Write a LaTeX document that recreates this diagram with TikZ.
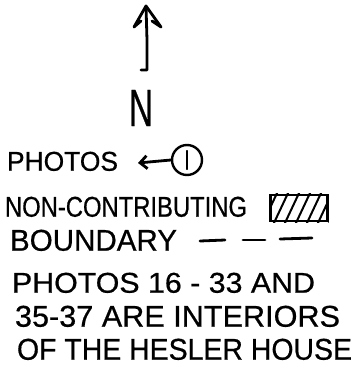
\documentclass[tikz,border=0pt]{standalone}
\usepackage{fontspec}
\setmainfont[BoldFont=Liberation Sans,BoldFeatures={FakeBold=0.6}]{Liberation Sans}
\usepackage{graphicx}
\usetikzlibrary{arrows.meta}
\newcommand\fitt[3]{\resizebox{#1pt}{#2pt}{#3}}
\begin{document}
\begin{tikzpicture}[x=1pt,y=-1pt,
  ink/.style={line width=2.8pt,line cap=round,line join=round},
  lbl/.style={anchor=south west,inner sep=0pt,outer sep=0pt,font=\bfseries}]
\useasboundingbox[fill=white] (0,0) rectangle (359,383);
% north arrow
\coordinate (tip) at (146,6);
\coordinate (tail) at (147,70);
\coordinate (hook) at (141,70);
\draw[ink] (tip) -- (147,40) -- (tail) -- (hook);
\draw[ink] (141,21) -- (134,27) -- (tip) -- (161,27) -- (152,21);
\node[lbl,anchor=south] (n) at (141,126) {\fitt{24}{36}{N}};
% photos
\node[lbl] (photos) at (7,171) {\fitt{111}{19}{PHOTOS}};
\node[draw,circle,line width=2.4pt,minimum size=30pt,inner sep=0pt] (c1) at (187,160) {\fitt{5}{19}{\bfseries I}};
\coordinate (arrend) at (138,163);
\draw[ink,-{Straight Barb[length=7pt,width=13pt]}] (c1.west) -- (arrend);
% non-contributing
\node[lbl] (noncon) at (5,217) {\fitt{242}{20}{NON-CONTRIBUTING}};
\node[draw,line width=2.4pt,minimum width=57pt,minimum height=26pt,inner sep=0pt] (hatch) at (299,208) {};
\begin{scope}
\clip (hatch.south west) rectangle (hatch.north east);
\foreach \i in {0,11,...,77}{
  \draw[line width=2pt] (262+\i,225) -- (278+\i,191);
}
\end{scope}
% boundary
\node[lbl] (bound) at (10,251) {\fitt{167}{21}{BOUNDARY}};
\coordinate (d1a) at (200,241); \coordinate (d1b) at (225,240);
\coordinate (d2a) at (243,240); \coordinate (d2b) at (265,240);
\coordinate (d3a) at (280,239); \coordinate (d3b) at (312,238);
\draw[ink] (d1a) -- (d1b);
\draw[ink] (d2a) -- (d2b);
\draw[ink] (d3a) -- (d3b);
% notes
\node[lbl] (l1) at (12,293) {\fitt{303}{20}{PHOTOS 16 - 33 AND}};
\node[lbl] (l2) at (15,327) {\fitt{325}{21}{35-37 ARE INTERIORS}};
\node[lbl] (l3) at (17,360) {\fitt{335}{21}{OF THE HESLER HOUSE}};
\end{tikzpicture}
\end{document}
